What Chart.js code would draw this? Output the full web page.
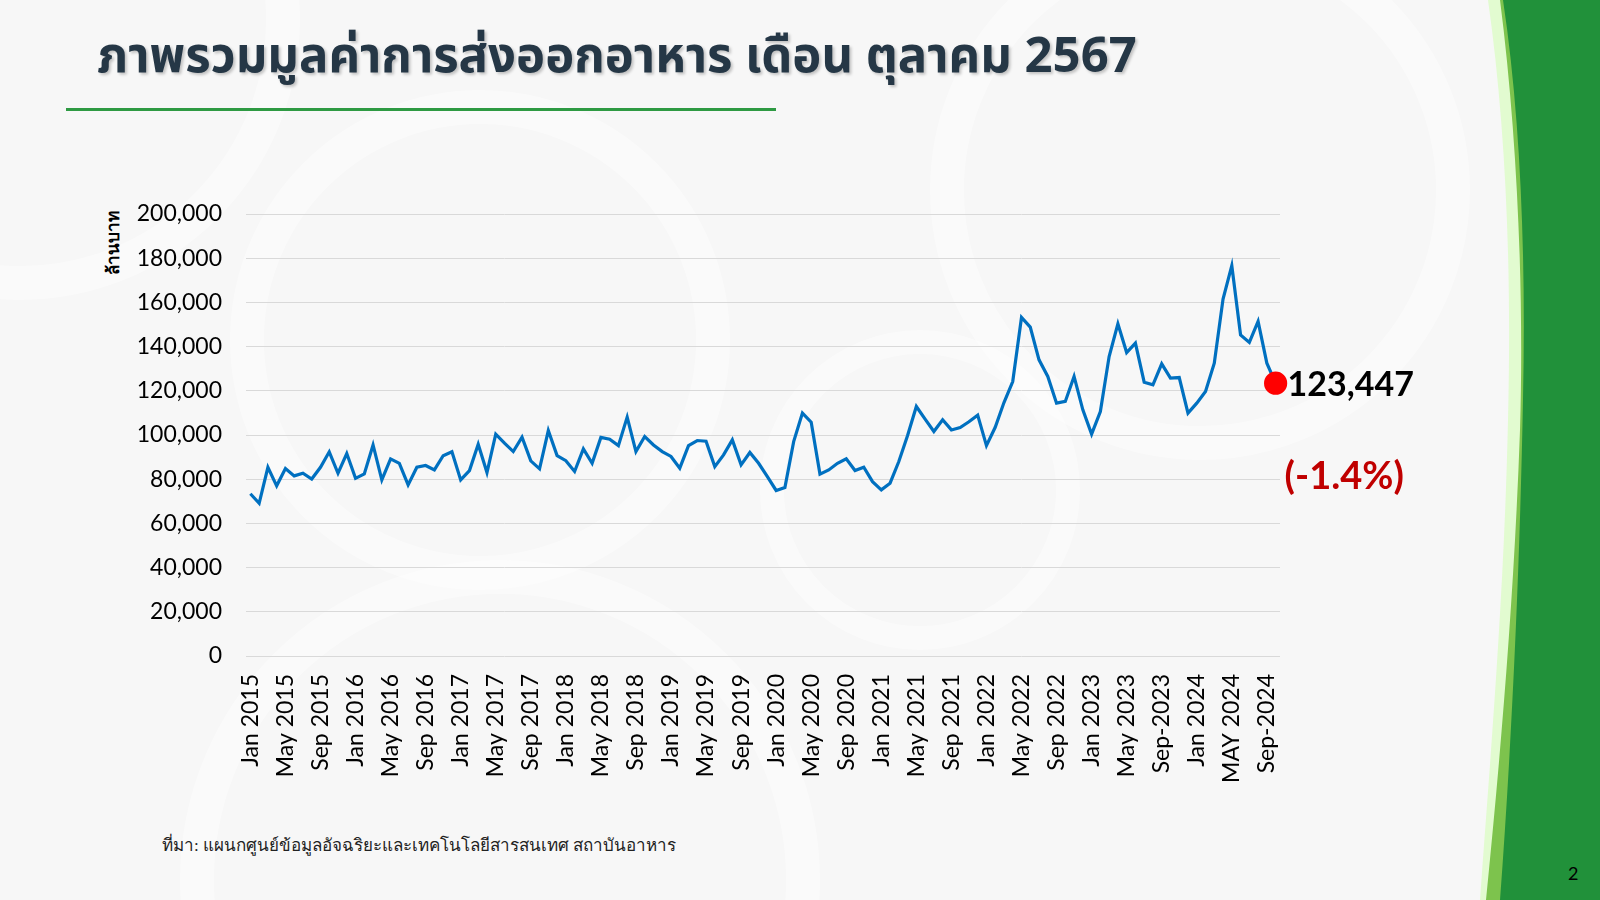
<!doctype html>
<html>

<head>
	<meta charset="utf-8">
	<title>ภาพรวมมูลค่าการส่งออกอาหาร</title>
	<script src="https://cdn.jsdelivr.net/npm/chart.js@4.4.1/dist/chart.umd.min.js"></script>
	<style>
		html, body {
			margin: 0;
			padding: 0;
		}
		body {
			width: 1600px;
			height: 900px;
			position: relative;
			overflow: hidden;
			background: #f7f7f7;
			font-family: Lato, "Noto Sans", sans-serif;
		}
		.ring {
			position: absolute;
			border-radius: 50%;
			border: 34px solid rgba(255, 255, 255, 0.4);
			box-sizing: border-box;
		}
		#deco {
			position: absolute;
			left: 0;
			top: 0;
		}
		#title {
			position: absolute;
			left: 97px;
			top: 20px;
			margin: 0;
			font-family: "Noto Sans", "Noto Sans Thai", sans-serif;
			font-weight: bold;
			font-size: 49px;
			color: #253746;
			text-shadow: 2px 2px 3px rgba(0, 0, 0, 0.22);
			white-space: nowrap;
		}
		#rule {
			position: absolute;
			left: 66px;
			top: 108px;
			width: 710px;
			height: 3px;
			background: #2e9a43;
		}
		#ytitle {
			position: absolute;
			left: 112px;
			top: 243px;
			transform: translate(-50%, -50%) rotate(-90deg);
			font-family: "Noto Sans", sans-serif;
			font-weight: bold;
			font-size: 17px;
			color: #000;
			white-space: nowrap;
		}
		#source {
			position: absolute;
			left: 162px;
			top: 831px;
			font-family: "Liberation Serif", "DejaVu Serif", serif;
			font-size: 17px;
			color: #222;
			white-space: nowrap;
		}
		#page {
			position: absolute;
			left: 1568px;
			top: 862px;
			font-size: 18px;
			color: #000;
		}
		#chart-holder {
			position: absolute;
			left: 0;
			top: 0;
			width: 1600px;
			height: 900px;
		}
	</style>
</head>

<body>
	<div class="ring" style="left:930px; top:-80px; width:540px; height:540px;"></div>
	<div class="ring" style="left:230px; top:90px; width:500px; height:500px;"></div>
	<div class="ring" style="left:-260px; top:-260px; width:560px; height:560px;"></div>
	<div class="ring" style="left:760px; top:330px; width:320px; height:320px; border-width:24px;"></div>
	<div class="ring" style="left:180px; top:560px; width:640px; height:640px;"></div>

	<svg id="deco" width="1600" height="900">
		<path d="M1488,0 C1505,120 1512,260 1508,420 C1504,600 1490,760 1480,900 L1600,900 L1600,0 Z" fill="#e2fbd0"/>
		<path d="M1500,0 C1518,140 1524,300 1520,430 C1514,600 1500,760 1486,900 L1600,900 L1600,0 Z" fill="#7dc34d"/>
		<path d="M1503,0 C1521,120 1526,260 1523,400 C1520,560 1512,740 1500,900 L1600,900 L1600,0 Z" fill="#21913a"/>
	</svg>

	<h1 id="title">ภาพรวมมูลค่าการส่งออกอาหาร เดือน ตุลาคม 2567</h1>
	<div id="rule"></div>
	<div id="ytitle">ล้านบาท</div>
	<div id="source">ที่มา: แผนกศูนย์ข้อมูลอัจฉริยะและเทคโนโลยีสารสนเทศ สถาบันอาหาร</div>
	<div id="page">2</div>

	<div id="chart-holder">
		<canvas id="chart-area" width="1600" height="900"></canvas>
	</div>

	<script>
		// tick labels shown on the x axis, one every 4 months (Jan 2015 .. Sep 2024)
		const tickLabels = [
			'Jan 2015', 'May 2015', 'Sep 2015',
			'Jan 2016', 'May 2016', 'Sep 2016',
			'Jan 2017', 'May 2017', 'Sep 2017',
			'Jan 2018', 'May 2018', 'Sep 2018',
			'Jan 2019', 'May 2019', 'Sep 2019',
			'Jan 2020', 'May 2020', 'Sep 2020',
			'Jan 2021', 'May 2021', 'Sep 2021',
			'Jan 2022', 'May 2022', 'Sep 2022',
			'Jan 2023', 'May 2023', 'Sep-2023',
			'Jan 2024', 'MAY 2024', 'Sep-2024'
		];

		// monthly food export value, million baht, Jan 2015 .. Oct 2024
		const exportValues = [
			73400, 69100, 85400, 77000, 84800, 81500, 82700, 80100, 85400, 92400, 82700, 91600,
			80400, 82400, 95500, 79700, 89200, 87200, 77400, 85400, 86200, 84200, 90600, 92400,
			79700, 83900, 95800, 83000, 100400, 96300, 92500, 99000, 88300, 84700, 102000, 90700,
			88400, 83500, 93700, 87200, 98900, 98100, 95200, 108100, 92500, 99300, 95500, 92500,
			90300, 85000, 95200, 97500, 97200, 85700, 91000, 97800, 86500, 92100, 87200, 81200,
			74900, 76200, 97000, 109900, 105800, 82300, 84200, 87200, 89200, 83900, 85400, 78900,
			75200, 78200, 88000, 99800, 112900, 107200, 101600, 106900, 102300, 103400, 106000, 109000,
			95200, 103500, 114700, 124200, 153200, 148800, 134000, 126500, 114400, 115200, 126500, 111400,
			100400, 110600, 135500, 150300, 137300, 141600, 123900, 122700, 132200, 125700, 126000, 109900,
			114400, 119700, 132500, 161500, 176600, 145300, 141900, 151400, 132500, 123447
		];

		// change of the latest month vs same month last year
		const latestChange = '(-1.4%)';

		const categories = exportValues.map((v, i) => (i % 4 === 0 ? tickLabels[i / 4] : ''));
		const lastIndex = exportValues.length - 1;

		// write the latest value and its change next to the red point
		const latestLabel = {
			id: 'latestLabel',
			afterDatasetsDraw(chart) {
				const pt = chart.getDatasetMeta(0).data[lastIndex];
				const ctx = chart.ctx;
				ctx.save();
				ctx.textAlign = 'left';
				ctx.textBaseline = 'middle';
				ctx.font = 'bold 34px Lato, "Noto Sans", sans-serif';
				ctx.fillStyle = '#000000';
				ctx.fillText(exportValues[lastIndex].toLocaleString('en-US'), pt.x + 12, pt.y + 2);
				ctx.font = 'bold 38px Lato, "Noto Sans", sans-serif';
				ctx.fillStyle = '#c00000';
				ctx.fillText(latestChange, pt.x + 9, pt.y + 94);
				ctx.restore();
			}
		};

		const config = {
			type: 'line',
			data: {
				labels: categories,
				datasets: [{
					data: exportValues,
					borderColor: '#0070c0',
					borderWidth: 3.2,
					tension: 0,
					pointRadius: (c) => (c.dataIndex === lastIndex ? 10 : 0),
					pointBackgroundColor: '#ff0000',
					pointBorderColor: '#ff0000',
					pointHoverRadius: 0
				}]
			},
			options: {
				responsive: false,
				animation: false,
				layout: {
					padding: { left: 120, right: 320, top: 214, bottom: 0 }
				},
				plugins: {
					legend: { display: false },
					tooltip: { enabled: false }
				},
				scales: {
					x: {
						offset: true,
						grid: { display: false, drawTicks: false },
						border: { display: false },
						afterFit(scale) { scale.height = 244; },
						ticks: {
							autoSkip: false,
							maxRotation: 90,
							minRotation: 90,
							padding: 18,
							color: '#000000',
							font: { family: 'Lato', size: 23 }
						}
					},
					y: {
						min: 0,
						max: 200000,
						grid: { color: '#d9d9d9', lineWidth: 1, drawTicks: false },
						border: { display: false },
						afterFit(scale) { scale.width = 126; },
						ticks: {
							stepSize: 20000,
							padding: 24,
							color: '#000000',
							font: { family: 'Lato', size: 23 },
							callback: (v) => v.toLocaleString('en-US')
						}
					}
				}
			},
			plugins: [latestLabel]
		};

		window.onload = function() {
			const ctx = document.getElementById('chart-area');
			window.myLine = new Chart(ctx, config);
		};
	</script>
</body>

</html>
